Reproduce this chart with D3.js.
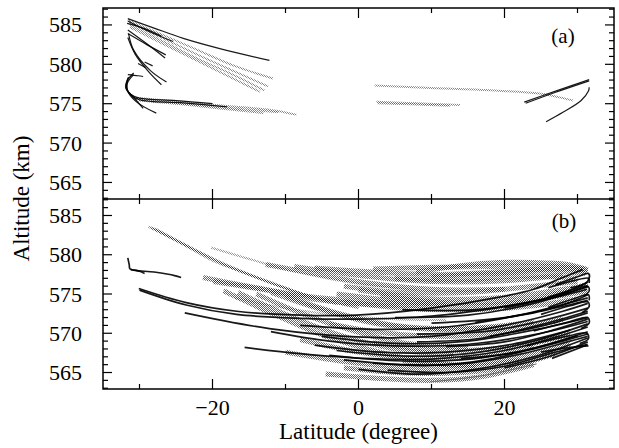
<!DOCTYPE html>
<html>
<head>
<meta charset="utf-8">
<script src="https://cdn.jsdelivr.net/npm/d3@7/dist/d3.min.js"></script>
<style>
  html, body { margin: 0; padding: 0; background: #fff; }
  svg { display: block; }
</style>
</head>
<body>
<svg id="chart" width="619" height="448"></svg>
<script>
// ---------- tick labels ----------
const xMajorTicks = [-20, 0, 20];
const xMinorTicks = [-30, -10, 10, 30];
const yMajorTicks = [565, 570, 575, 580, 585];
const panelLabels = ["(a)", "(b)"];

// ---------- panel (a) tracks: [latitude, altitude] ----------
const blackTracksA = [
  [[-31.6,585.8],[-28,584.6],[-24,583.3],[-19,582.0],[-12.2,580.5]],
  [[-31.6,585.5],[-29,584.3],[-25.4,582.9]],
  [[-31.7,585.2],[-29.5,584.6],[-27,583.6]],
  [[-31.6,584.35],[-29,582.6],[-26.5,580.8]],
  [[-31.6,583.9],[-29,582.5],[-26.4,581.2]],
  [[-31.5,583.9],[-30.8,581.8],[-28.5,579.2],[-26.3,577.75]],
  [[-31.6,583.4],[-30.6,581.3],[-28.7,579.0],[-27.0,577.4]],
  [[-30.2,580.1],[-29.2,579.6]],
  [[-29.3,580.3],[-28.2,579.8]],
  [[-30.8,578.9],[-31.6,578.0],[-31.8,577.0],[-31.2,576.2],[-30.0,575.7],[-25,575.4],[-20,575.0]],
  [[-30.8,578.7],[-31.7,577.5],[-31.4,576.3],[-30.0,575.5],[-24,575.1],[-18,574.6]],
  [[-31.5,578.4],[-31.9,577.0],[-30.8,575.8],[-29.5,574.4]],
  [[-31.6,578.2],[-31.7,576.8],[-30.5,575.3],[-27.7,573.8]],
  [[-31.6,578.7],[-30.2,578.55],[-29.5,578.45]],
  [[22.7,575.2],[27,576.6],[31.6,578.05]],
  [[22.9,575.05],[27,576.45],[31.6,577.9]],
  [[25.7,572.7],[28,573.9],[30.5,575.4],[31.5,576.6],[31.6,577.1]]
];
const grayTracksA = [
  [[-31.6,585.6],[-27,583.8],[-22,581.8],[-17,579.8],[-11.7,578.2]],
  [[-31.5,585.3],[-27,583.4],[-22,581.2],[-17,579.1],[-12.4,577.2]],
  [[-31.4,585.0],[-27,583.0],[-22,580.7],[-17,578.6],[-12.9,576.7]],
  [[-31.3,584.7],[-27,582.7],[-22,580.4],[-13.5,576.5]],
  [[-31.0,575.8],[-25,575.3],[-18,574.7],[-12,574.2],[-8.5,573.6]],
  [[-30.5,575.6],[-24,575.0],[-17,574.4],[-11,573.9]],
  [[-30.2,575.4],[-24,574.9],[-18,574.3],[-13,573.8]],
  [[2.2,577.3],[10,577.0],[18,576.7],[24.8,576.3],[27.5,575.8],[29.4,575.4]],
  [[2.45,575.25],[8,575.05],[13.9,574.85]],
  [[2.6,575.05],[8,574.9],[12.5,574.75]]
];

// ---------- panel (b) tracks: [latitude, altitude] ----------
const blackTracksB = [
  [[-31.6,579.6],[-31.4,578.7],[-31.3,578.2],[-28,577.8],[-25.2,577.35],[-24.3,577.1]],
  [[-31.2,578.1],[-30,577.9],[-29.3,577.6]],
  [[-30.1,575.7],[-23.6,573.9],[-16.7,572.8],[-8,572.3],[-0.3,572.3],[10,573.2],[19.3,574.6],[24,575.6],[28,577.1],[30.7,578.1]],
  [[-30,575.5],[-23.6,573.6],[-16.7,572.4],[-8,571.9],[0,571.8],[10,572.2],[20,573.4],[28,574.8],[31.3,575.6]],
  [[-23.8,572.6],[-12.2,570.6],[0.6,569.5],[10,569.6],[20,571.0],[28,572.8],[31.4,573.8]],
  [[-15.6,568.2],[-8,567.4],[0.6,566.8],[10,566.7],[20,567.8],[27,569.5],[31.4,570.8]],
  [[26.5,566.8],[31.3,568.5]],
  [[-5,569.6],[5,568.7],[15,569.0],[25,570.6],[31.4,572.0]],
  [[0,565.4],[8,564.8],[16,565.4],[24,567.0],[31.4,569.4]],
  [[-3,567.8],[6,567.1],[15,567.4],[24,569.0],[31.4,571.2]],
  [[2,566.2],[10,565.9],[18,566.7],[26,568.6],[31.4,570.2]],
  [[-8,571.0],[2,570.5],[12,570.8],[22,572.3],[31.4,574.5]],
  [[5,572.0],[15,572.3],[24,573.8],[31.4,576.0]],
  [[10,571.3],[20,572.0],[28,573.6],[31.4,574.9]],
  [[8,569.9],[18,570.3],[26,571.8],[31.4,573.2]],
  [[12,568.3],[20,568.9],[27,570.5],[31.4,571.8]],
  [[14,566.8],[22,567.6],[28,569.0],[31.4,569.9]],
  [[-12,570.2],[-4,569.0],[5,568.4],[15,568.6],[25,570.0],[31.4,571.5]],
  [[-6,568.5],[3,567.6],[12,567.6],[21,568.6],[29,570.4]],
  [[-2,566.6],[6,566.0],[14,566.1],[22,567.3],[29,569.0],[31.4,569.6]],
  [[4,565.3],[12,565.0],[20,565.8],[27,567.6],[31.4,568.6]],
  [[6,573.0],[16,573.0],[25,574.3],[31.4,575.9]],
  [[16,571.4],[24,572.6],[31.4,574.2]],
  [[18,569.6],[25,570.9],[31.4,572.6]],
  [[27,576.2],[30,577.2],[31.5,577.6],[31.6,577.0],[31.0,576.3],[29,575.8]],
  [[26,574.6],[29.5,575.6],[31.4,576.0],[31.6,575.4],[30.8,574.7]],
  [[25,572.4],[29,573.5],[31.4,574.0],[31.6,573.4],[30.6,572.6]],
  [[24,570.3],[29,571.5],[31.4,572.0],[31.6,571.3],[30.5,570.6]],
  [[23,568.4],[28.5,569.6],[31.3,570.0],[31.5,569.3],[30.3,568.7]],
  [[25,567.6],[29,568.2],[31.5,568.4]],
  [[26,575.8],[29.5,576.7],[31.5,577.0],[31.6,576.4]],
  [[26,573.3],[29.5,574.4],[31.5,574.9],[31.6,574.2]],
  [[-4,567.2],[5,566.5],[14,566.6],[23,567.9],[30,569.7]],
  [[8,568.9],[17,569.4],[25,571.1],[31.4,572.8]],
  [[20,573.2],[27,574.8],[31.4,576.5]],
  [[20,565.6],[26,567.0],[31.4,568.9]]
];
const lightGrayTracksB = [
  [[-28.8,583.6],[-24,581.3],[-19.9,579.2],[-12.2,576.6],[-6.7,574.7],[0,573.3]],
  [[-28.5,583.5],[-23.5,581.1],[-18.8,578.9],[-11,576.1],[-4,573.9]],
  [[-28.2,583.4],[-23,580.9],[-18,578.6],[-10,575.7],[-3,573.7]],
  [[-27.8,583.3],[-22.5,580.7],[-17,578.3],[-9,575.4],[0,573.2]],
  [[-20.2,580.9],[-14,579.2],[-8.5,577.8],[0,576.3],[8,575.5]],
  [[-17,574.5],[-10,573.2],[-3,572.3],[5,571.8],[12,571.7]]
];
const grayTracksB = [
  [[-12.7,578.75],[-6,577.6],[0.6,576.5],[10,575.6],[20,575.6]],
  [[-8.8,578.5],[0.6,577.3],[10,576.6],[20,576.7],[28,577.4]],
  [[-6,578.3],[2,577.8],[12,577.5],[22,578.0],[29,578.2],[31.4,577.9]],
  [[7.9,577.8],[14,578.6],[19.3,579.0],[24,579.0],[28.4,578.8],[31.4,578.1]],
  [[2,578.2],[10,578.4],[18,578.5],[26,578.5],[31,578.2]],
  [[-21.3,577.1],[-14,575.8],[-6,574.6],[2,574.0],[10,573.8]],
  [[-19.9,576.6],[-12,575.4],[-5.8,574.3],[3,573.6],[12,573.6]],
  [[-18.5,575.4],[-12,572.6],[-5,569.8],[2,567.8],[10,566.2],[16,565.8]],
  [[-16.5,575.2],[-10,572.4],[-3,569.9],[5,568.0],[13,567.2]],
  [[-14,575.0],[-8,572.6],[-1,570.4],[6,568.8],[15,568.2]],
  [[-12,575.2],[-5,573.0],[2,571.3],[10,570.5],[20,570.8]],
  [[-10,574.8],[-3,572.6],[5,571.0],[14,570.6],[24,571.4]],
  [[-4.5,564.8],[2,564.3],[10,564.0],[17,564.5],[24,566.0]],
  [[-2,565.6],[5,565.0],[12,564.9],[20,565.6],[27,567.4]],
  [[0,575.5],[10,574.4],[20,574.6],[28,575.6],[31.4,576.2]],
  [[3,574.8],[12,573.9],[22,574.2],[29,575.4]],
  [[-3,575.0],[8,573.9],[18,573.6],[26,574.5],[31.4,575.4]],
  [[2,568.8],[12,567.8],[22,568.4],[29,569.9]],
  [[6,566.5],[14,566.0],[22,566.9],[29,568.6]],
  [[-8,569.2],[0,567.6],[8,566.8],[16,567.0],[24,568.3]],
  [[5,577.0],[14,576.8],[22,577.3],[30,577.0]],
  [[-2,576.0],[6,575.2],[15,575.2],[24,576.0],[30,576.6]],
  [[-4,571.2],[4,570.0],[12,569.6],[20,570.2],[28,571.8]],
  [[-10,567.6],[-2,566.4],[6,565.6],[14,565.6],[22,566.5]],
  [[10,577.2],[18,577.6],[25,577.9],[31,577.6]],
  [[-2,574.0],[6,573.2],[15,573.0],[23,573.4],[30,574.4]]
];
const thinGrayTracksB = [
  [[9.8,563.8],[17,564.6],[24.4,566.1]]
];

// ---------- layout ----------
const FONT = "'Liberation Serif', 'Times New Roman', Times, serif";
const svg = d3.select("#chart");
const L = 103, R = 614, T = 8, MID = 199, B = 389;
const x = d3.scaleLinear().domain([-35, 35]).range([L, R]);
const yA = d3.scaleLinear().domain([562.9, 587.15]).range([MID, T]);
const yB = d3.scaleLinear().domain([562.9, 587.1]).range([B, MID]);

const defs = svg.append("defs");
defs.append("clipPath").attr("id", "clipA").append("rect")
  .attr("x", L).attr("y", T).attr("width", R - L).attr("height", MID - T);
defs.append("clipPath").attr("id", "clipB").append("rect")
  .attr("x", L).attr("y", MID).attr("width", R - L).attr("height", B - MID);
const hatch = defs.append("pattern").attr("id", "hatch")
  .attr("patternUnits", "userSpaceOnUse").attr("width", 2).attr("height", 2);
hatch.append("path").attr("d", "M-0.5,0.5 L0.5,-0.5 M0,2 L2,0 M1.5,2.5 L2.5,1.5")
  .attr("stroke", "#1a1a1a").attr("stroke-width", 0.75);

const line = y => d3.line().x(d => x(d[0])).y(d => y(d[1])).curve(d3.curveCatmullRom.alpha(0.5));
function hatchLayer(g, y, data, w, op) {
  g.append("g").selectAll("path").data(data).join("path").attr("d", line(y))
    .attr("fill", "none").attr("stroke", "url(#hatch)").attr("stroke-width", w).attr("opacity", op);
}
function solidLayer(g, y, data, w, color, op) {
  g.append("g").selectAll("path").data(data).join("path").attr("d", line(y))
    .attr("fill", "none").attr("stroke", color).attr("stroke-width", w).attr("opacity", op);
}
const gA = svg.append("g").attr("clip-path", "url(#clipA)");
hatchLayer(gA, yA, grayTracksA, 2, 0.7);
solidLayer(gA, yA, blackTracksA, 1.2, "#000", 0.9);

const gB = svg.append("g").attr("clip-path", "url(#clipB)");
hatchLayer(gB, yB, lightGrayTracksB, 2.2, 0.6);
hatchLayer(gB, yB, grayTracksB, 5, 0.9);
solidLayer(gB, yB, thinGrayTracksB, 1, "#666", 1);
solidLayer(gB, yB, blackTracksB, 1.7, "#000", 0.9);

// ---------- ticks ----------
const ax = svg.append("g").attr("stroke", "#000").attr("stroke-width", 1.2);
function xTicks(yPos, dir) {
  xMajorTicks.forEach(v => ax.append("line").attr("x1", x(v)).attr("x2", x(v)).attr("y1", yPos).attr("y2", yPos + dir * 10));
  xMinorTicks.forEach(v => ax.append("line").attr("x1", x(v)).attr("x2", x(v)).attr("y1", yPos).attr("y2", yPos + dir * 5));
}
xTicks(T, 1); xTicks(MID, -1); xTicks(MID, 1); xTicks(B, -1);

function yTicks(y) {
  const [lo, hi] = y.domain();
  d3.range(Math.ceil(lo), Math.floor(hi) + 1).forEach(v => {
    const len = yMajorTicks.includes(v) ? 9 : 5;
    ax.append("line").attr("x1", L).attr("x2", L + len).attr("y1", y(v)).attr("y2", y(v));
    ax.append("line").attr("x1", R).attr("x2", R - len).attr("y1", y(v)).attr("y2", y(v));
  });
}
yTicks(yA); yTicks(yB);

svg.append("rect").attr("x", L).attr("y", T).attr("width", R - L).attr("height", B - T)
  .attr("fill", "none").attr("stroke", "#000").attr("stroke-width", 1.5);
svg.append("line").attr("x1", L).attr("x2", R).attr("y1", MID).attr("y2", MID)
  .attr("stroke", "#000").attr("stroke-width", 1.5);

// ---------- labels ----------
function label(txt, xPos, yPos, size, anchor) {
  return svg.append("text").attr("x", xPos).attr("y", yPos)
    .attr("font-size", size).attr("font-family", FONT)
    .attr("text-anchor", anchor).text(txt);
}
const fmt = v => (v < 0 ? "\u2212" + Math.abs(v) : String(v));
xMajorTicks.forEach(v => label(fmt(v), x(v), 415, 22, "middle"));
[yA, yB].forEach(y => yMajorTicks.forEach(v => label(String(v), 82, y(v) + 7.5, 22, "end")));
label("Latitude (degree)", (L + R) / 2, 439, 23, "middle");
svg.append("text").attr("transform", `translate(29,${(T + B) / 2}) rotate(-90)`)
  .attr("font-size", 23).attr("font-family", FONT)
  .attr("text-anchor", "middle").text("Altitude (km)");
label(panelLabels[0], 563, 43, 21, "middle");
label(panelLabels[1], 564, 228, 21, "middle");
</script>
</body>
</html>
